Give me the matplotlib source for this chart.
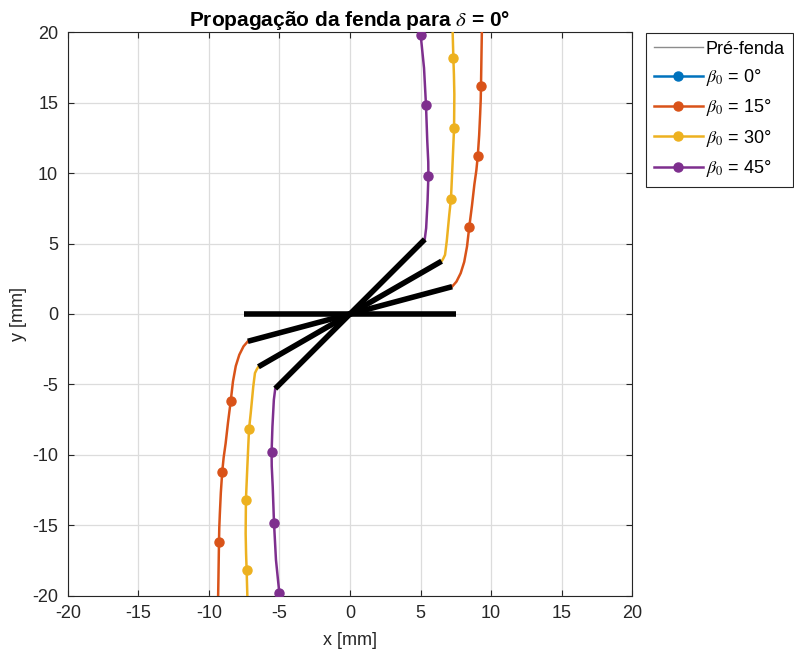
import numpy as np
import matplotlib
matplotlib.use("Agg")
import matplotlib.pyplot as plt
from matplotlib.lines import Line2D

plt.rcParams['font.family'] = ['Liberation Sans', 'DejaVu Sans']
plt.rcParams['mathtext.fontset'] = 'stix'
plt.rcParams['axes.unicode_minus'] = False

# Pre-crack: half length [mm] and initial inclinations
a0 = 7.5
betas = [0, 15, 30, 45]
colors = ['#0072BD', '#D95319', '#EDB120', '#7E2F8E']

# Upper branch of the propagated crack (from the tip to y = 20 mm).
# The lower branch is the point reflection about the origin.
# beta0 = 0 gave no propagation path.
path_x = {
    0: [],
    15: [7.24, 7.55, 7.85, 8.10, 8.30, 8.46, 8.65, 8.82, 8.96, 9.06, 9.16, 9.23, 9.27, 9.29, 9.31, 9.33, 9.35],
    30: [6.50, 6.62, 6.74, 6.86, 7.04, 7.16, 7.28, 7.38, 7.40, 7.37, 7.33, 7.28],
    45: [5.30, 5.40, 5.50, 5.56, 5.55, 5.48, 5.39, 5.25, 5.01, 5.00],
}
path_y = {
    0: [],
    15: [1.94, 2.30, 2.90, 3.70, 4.80, 6.20, 7.70, 9.20, 10.20, 11.20, 12.70, 14.20, 15.20, 16.20, 17.50, 18.80, 20.00],
    30: [3.75, 3.95, 4.20, 5.16, 7.05, 8.18, 10.85, 13.20, 15.60, 17.00, 18.20, 20.00],
    45: [5.30, 6.10, 8.00, 9.82, 10.80, 12.27, 14.82, 17.47, 19.84, 20.00],
}
# points of each branch that carry a marker
marks = {
    0: [],
    15: [5, 9, 13],
    30: [5, 7, 10],
    45: [3, 6, 8],
}

fig = plt.figure(figsize=(7.94, 6.57), dpi=100)
ax = fig.add_axes([0.0856, 0.0936, 0.7104, 0.857])

handles = [Line2D([], [], color='#8c8c8c', lw=1.0, label='Pré-fenda')]
for b, c in zip(betas, colors):
    ux = np.array(path_x[b])
    uy = np.array(path_y[b])
    # full path: bottom end -> lower tip -> upper tip -> top end
    xs = np.concatenate([-ux[::-1], ux])
    ys = np.concatenate([-uy[::-1], uy])
    n = len(ux)
    every = [n - 1 - i for i in marks[b]] + [n + i for i in marks[b]]
    ln, = ax.plot(xs, ys, '-o', color=c, lw=1.8, ms=6.5, markevery=every if every else None,
                  label=r'$\beta_0$ = %d°' % b, zorder=3)
    handles.append(ln)

# pre-cracks on top
for b in betas:
    t = np.deg2rad(b)
    ax.plot([-a0 * np.cos(t), a0 * np.cos(t)], [-a0 * np.sin(t), a0 * np.sin(t)],
            color='k', lw=4, solid_capstyle='butt', zorder=4)

ax.set_xlim(-20, 20)
ax.set_ylim(-20, 20)
ax.set_xticks(np.arange(-20, 21, 5))
ax.set_yticks(np.arange(-20, 21, 5))
ax.grid(True, color='#dcdcdc', lw=0.9)
ax.set_axisbelow(True)
for s in ax.spines.values():
    s.set_color('#262626')
    s.set_linewidth(0.8)
ax.tick_params(direction='in', length=4, width=0.8, colors='#262626', labelsize=13,
               top=True, right=True, pad=7)
ax.set_xlabel('x [mm]', fontsize=13, color='#262626', labelpad=7)
ax.set_ylabel('y [mm]', fontsize=13, color='#262626', labelpad=4)
ax.set_title(r'Propagação da fenda para $\delta$ = 0°', fontsize=15, fontweight='bold', pad=5)

leg = fig.legend(handles=handles, loc='upper left', bbox_to_anchor=(0.8136, 0.9505),
                 fontsize=13, frameon=True, fancybox=False, framealpha=1,
                 edgecolor='#262626', handlelength=2.7, handletextpad=0.15,
                 labelspacing=0.52, borderpad=0.45, borderaxespad=0)
leg.get_frame().set_linewidth(0.8)

fig.savefig('out.png', dpi=100)
